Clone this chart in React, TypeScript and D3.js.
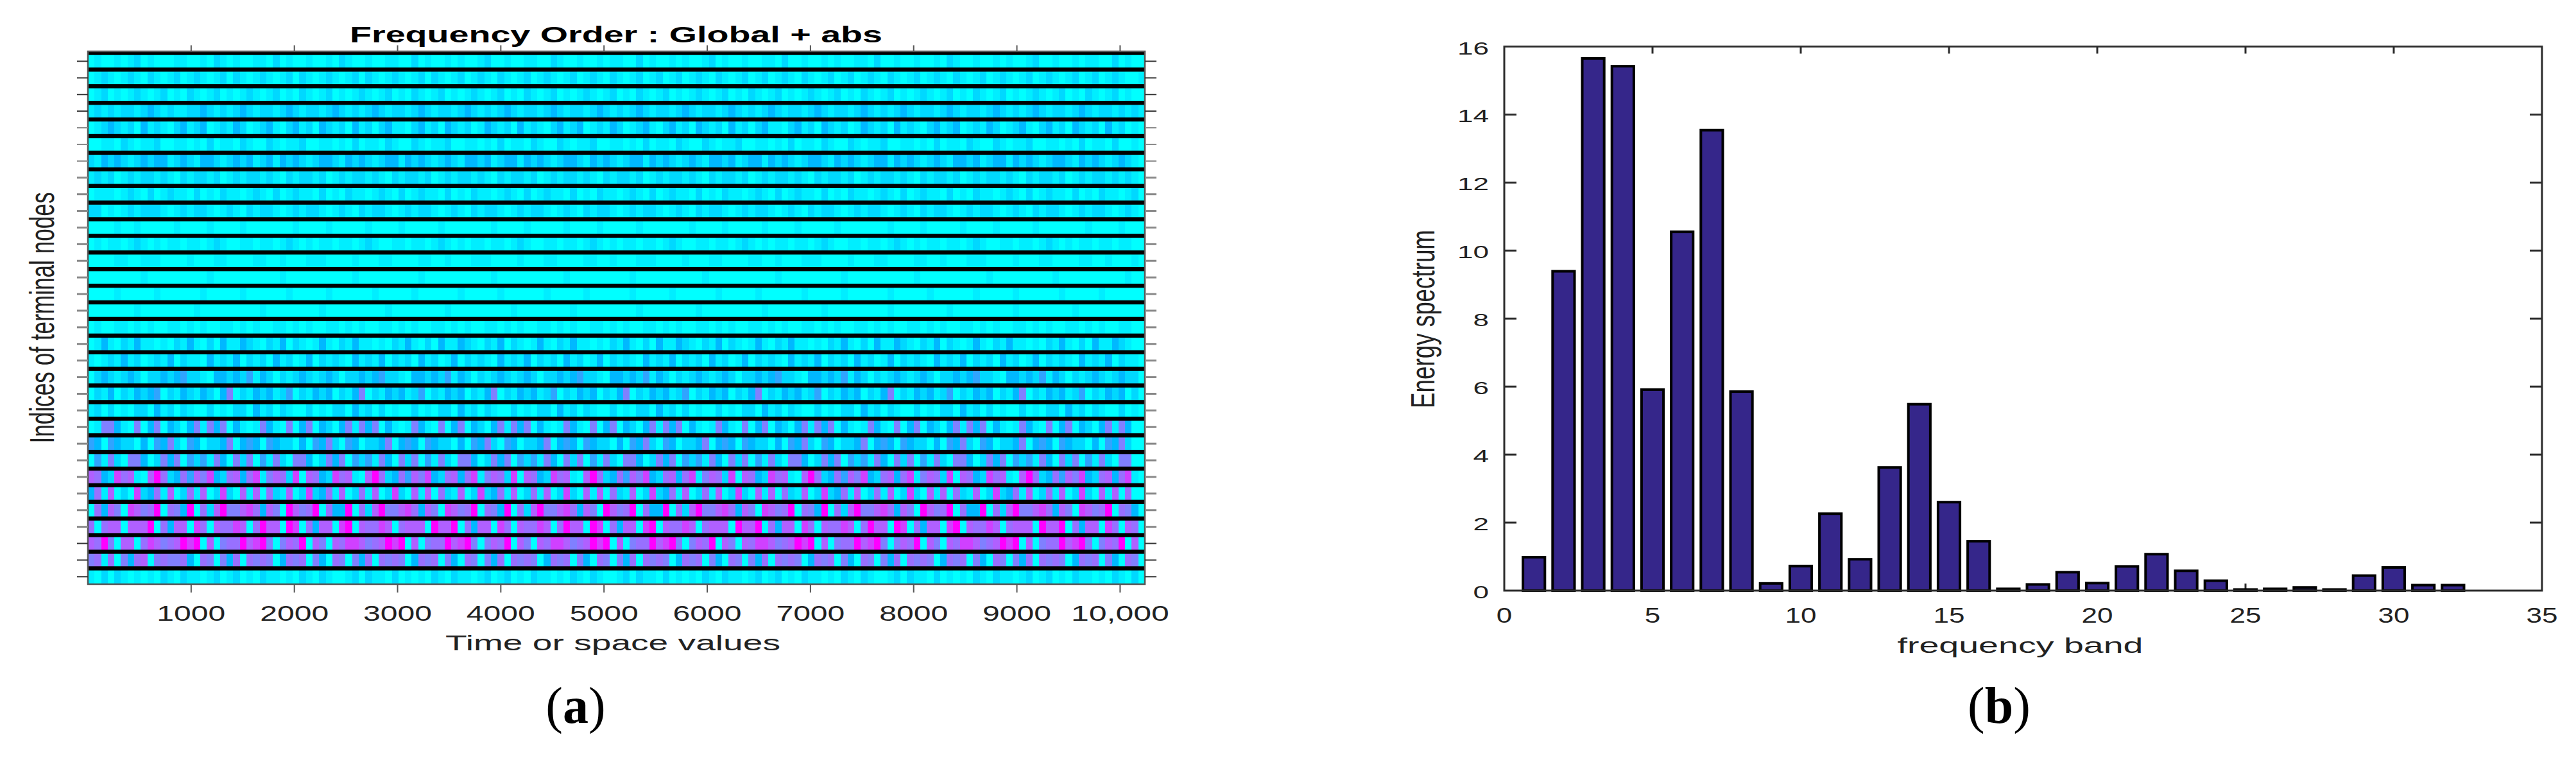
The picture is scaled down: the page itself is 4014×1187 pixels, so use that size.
import React from "react";
import * as d3 from "d3";

// ---------- panel (a): hand-estimated colour levels (0 cyan .. 9 magenta), one string per terminal node, top to bottom
const terminalNodeRows: string[] = [
  "0100101201000110010210100110201001001021001001100201001010012001001100210010010110020100101001201001001102001001010011020010010010210010010100120010010110020100",
  "0121012102101201210120210121012021012101202101210120210120121021012012101201210210120120120121021012012012102101201201210210120121021012012101201210120120121001",
  "0120101210120102101201012101201021012010121012010210120101210120102101201012101201021012010121012010210120101210120102101201012101201021012010121012010210120100",
  "1212122123212112232121232122123212212321212321221232122123212123212212321221232121232122123212212321212321221232122123212123212212321221232121232122123212212121",
  "0123212031210231230121320123102312032120312023110231203212013212031210231230121320123102312032120312023110231203212013212031210231230121320123102312032120312010",
  "0011021011200110102011021002101120011010201102100210112001101020110210021011200110102011021002101120011010201102100210112001101020110210021011200110102011020010",
  "2132321232331232133212323123132321233213232123313232123213323123313232123321323212331323212321332312331323212332132321233132321232133231233132321233213232123210",
  "1212012122121021221201212212102122120121221210212212012122121021221201212212102122120121221210212212012122121021221201212212102122120121221210212212012122121210",
  "0111012102012110201021101210201211020102110121020121102010211012102012110201021101210201211020102110121020121102010211012102012110201021101210201211020102110120",
  "2201012122210121221012102122101212210121021221012122101210212210121221012102122101212210121021221012122101210212210121221012102122101212210121021221012122101210",
  "0000100100000100001000010000000100001000001000010000010000000100001000001000010000010000000100001000001000010000010000000100001000001000010000010000000100001000",
  "0101101210101101101210011011012101011011012100110110121010110110121001101101210101101101210011011012101011011012100110110121010110110121001101101210101101101100",
  "0000110011100001000110000110010001110000100011000011001000111000010001100001100100011100001000110000110010001110000100011000011001000111000010001100001100100010",
  "0000000010000000001000000000010000000000100000000010000000000100000000001000000000100000000001000000000010000000001000000000010000000000100000000010000000000100",
  "0000100000100000010000010000001000001000000100000100000010000010000001000001000000100000100000010000010000001000001000000100000100000010000010000001000001000000",
  "0000000100000000100000000010000000010000000001000000001000000000100000000100000000010000000010000000001000000001000000000100000000100000000010000000010000000000",
  "0100110101001101010011010100110101001101010011010100110101001101010011010100110101001101010011010100110101001101010011010100110101001101010011010100110101001100",
  "0131021311010213102031132102130210131021311010213102031132102130210131021311010213102031132102130210131021311010213102031132102130210131021311010213102031132100",
  "1012131201213021103121302120312013021210312130212031201302121031213021203120130212103121302120312013021210312130212031201302121031213021203120130212103121302110",
  "0232123202232342210332324132021232123202232342210332324132021232123202232342210332324132021232123202232342210332324132021232123202232342210332324132021232123220",
  "0213021323402132132035021323124021323021350213231240213230213502132312402132302135021323124021323021350213231240213230213502132312402132302135021323124021323020",
  "1202010220312021002010220312021002010220312020100201022031202100201022031202100201022031202010020102203120210020102203120210020102203120201002010220312021002010",
  "0155310503503203515350310153105035032035153503101531050350320351535031015310503503203515350310153105035032035153503101531050350320351535031015310503503203515300",
  "4304322030435204302235034304322030435204302235034304322030435204302235034304322030435204302235034304322030435204302235034304322030435204302235034304322030435200",
  "0415205530253504241530525041520553025350424153052504152055302535042415305250415205530253504241530525041520553025350424153052504152055302535042415305250415205500",
  "7632867107962364758326736815762807632867107962364758326736815762807632867107962364758326736815762807632867107962364758326736815762807632867107962364758326736810",
  "3617020823617026170282071706217028236170261702820717062170282361702617028207170621702823617026170282071706217028236170261702820717062170282361702617028207170600",
  "0637508756906539062795578637509756906339062795578637508756906539062795578637509756906339062795578637508756906539062795578637509756906339062795578637508756906530",
  "6067707779063770860766870697709806377089076687067770977906377086076687069770980637708907668706777097790637708607668706977098063770890766870677709779063770860760",
  "7695077068756798907056697895057690750768875679890705669789505769075076887567989070566978950576907507688756798907056697895057690750768875679890705669789505769070",
  "5616053670565563065053606565036560530650536065650365605306505360656503656053065053606565036560530650536065650365605306505360656503656053065053606565036560530650",
  "1020210101021021101201201021101021021001202110201010210211012012010211010210210012021102010102102110120120102110102102100120211020101021021101201201021101021020",
];
const timeTicks: number[] = [1000, 2000, 3000, 4000, 5000, 6000, 7000, 8000, 9000, 10000];
const timeTickLabels: string[] = ["1000", "2000", "3000", "4000", "5000", "6000", "7000", "8000", "9000", "10,000"];
const levelStops: number[] = [0, 1, 2, 3, 4, 5, 7, 8, 9];
const levelColours: string[] = ["#00ffff", "#00eeff", "#00d8ff", "#00b8ff", "#30a4ff", "#8080ff", "#b060ff", "#d040ff", "#ff00ff"];

// ---------- panel (b)
const bands: number[] = d3.range(1, 33);
const energy: number[] = [
  1.0, 9.41, 15.67, 15.44, 5.93, 10.57, 13.56, 5.87, 0.23, 0.74, 2.28, 0.94, 3.64, 5.5, 2.62, 1.47,
  0.07, 0.2, 0.56, 0.24, 0.73, 1.09, 0.6, 0.31, 0.05, 0.07, 0.11, 0.05, 0.46, 0.7, 0.18, 0.18,
];
const freqTicks: number[] = [0, 5, 10, 15, 20, 25, 30, 35];
const energyTicks: number[] = [0, 2, 4, 6, 8, 10, 12, 14, 16];

const W = 4014;
const H = 1187;
const INK = "#222";
const SANS = "'Liberation Sans', Arial, sans-serif";
const SERIF = "'Liberation Serif', serif";

function T(p: {
  x: number; y: number; size: number; len: number; children: React.ReactNode;
  anchor?: "start" | "middle" | "end"; weight?: string; rotate?: boolean; fill?: string;
}) {
  return (
    <text
      transform={`translate(${p.x},${p.y})${p.rotate ? " rotate(-90)" : ""}`}
      fontFamily={SANS}
      fontSize={p.size}
      fontWeight={p.weight ?? "normal"}
      fill={p.fill ?? INK}
      textAnchor={p.anchor ?? "middle"}
      textLength={p.len}
      lengthAdjust="spacingAndGlyphs"
    >
      {p.children}
    </text>
  );
}

function PanelA() {
  const x = d3.scaleLinear().domain([0, 10240]).range([137, 1784]);
  const y = d3.scaleLinear().domain([0, 32]).range([82.5, 911.3]);
  const top = 80;
  const bottom = 910;
  const colour = d3.scaleLinear<string>().domain(levelStops).range(levelColours).interpolate(d3.interpolateRgb);
  return (
    <g>
      <g shapeRendering="crispEdges">
        {terminalNodeRows.map((row, k) => {
          const cell = d3.scaleLinear().domain([0, row.length]).range(x.range());
          return Array.from(row).map((c, i) => (
            <rect
              key={`${k}-${i}`}
              x={cell(i)}
              y={y(k)}
              width={cell(i + 1) - cell(i) + 0.6}
              height={Math.min(y(k + 1), bottom) - y(k)}
              fill={colour(+c)}
            />
          ));
        })}
      </g>
      {d3.range(0, 32).map((k) => (
        <rect key={k} x={137} y={Math.max(top, y(k) - 3.2)} width={1647} height={k === 0 ? 5.7 : 6.4} fill="#000" />
      ))}
      <rect x={137} y={top} width={1647} height={bottom - top} fill="none" stroke="#555" strokeWidth={2.5} />
      {d3.range(0, 32).map((k) => {
        const ty = y(k + 0.5);
        const grey = k >= 4 && k <= 28 ? "#888" : "#333";
        const sw = k >= 7 && k <= 28 ? 3 : 2;
        return (
          <g key={k} stroke={grey} strokeWidth={sw}>
            <line x1={120} x2={137} y1={ty} y2={ty} />
            <line x1={1784} x2={1802} y1={ty} y2={ty} />
          </g>
        );
      })}
      {timeTicks.map((v, i) => (
        <g key={v}>
          <line x1={x(v)} x2={x(v)} y1={70.5} y2={top} stroke="#555" strokeWidth={2} />
          <line x1={x(v)} x2={x(v)} y1={bottom} y2={923} stroke="#555" strokeWidth={2} />
          <T x={x(v)} y={967} size={33} len={i === 9 ? 153 : 107}>{timeTickLabels[i]}</T>
        </g>
      ))}
      <T x={960} y={66} size={35} len={830} weight="bold" fill="#000">Frequency Order : Global + abs</T>
      <T x={955} y={1013} size={33} len={522}>Time or space values</T>
      <T x={84} y={495} size={54} len={391} rotate>Indices of terminal nodes</T>
    </g>
  );
}

function PanelB() {
  const x = d3.scaleLinear().domain([0, 35]).range([2344, 3961]);
  const y = d3.scaleLinear().domain([0, 16]).range([920, 72.5]);
  const barW = x(0.74) - x(0);
  const axis = "#2b2b2b";
  return (
    <g>
      <g stroke={axis} strokeWidth={3}>
        {freqTicks.slice(1, -1).map((v) => (
          <g key={v}>
            <line x1={x(v)} x2={x(v)} y1={y(0)} y2={y(0) - 11} />
            <line x1={x(v)} x2={x(v)} y1={y(16)} y2={y(16) + 11} />
          </g>
        ))}
        {energyTicks.slice(1, -1).map((v) => (
          <g key={v}>
            <line x1={x(0)} x2={x(0) + 19} y1={y(v)} y2={y(v)} />
            <line x1={x(35)} x2={x(35) - 19} y1={y(v)} y2={y(v)} />
          </g>
        ))}
      </g>
      {bands.map((b, i) => (
        <rect
          key={b}
          x={x(b) - barW / 2}
          y={y(energy[i]) + 1}
          width={barW}
          height={y(0) - y(energy[i]) - 1}
          fill="#35268a"
          stroke="#000"
          strokeWidth={4}
        />
      ))}
      <rect x={x(0)} y={y(16)} width={x(35) - x(0)} height={y(0) - y(16)} fill="none" stroke={axis} strokeWidth={3} />
      {freqTicks.map((v) => (
        <T key={v} x={x(v)} y={970} size={33} len={String(v).length * 24.5}>{v}</T>
      ))}
      {energyTicks.map((v) => (
        <T key={v} x={2320} y={y(v) + 12} size={27} anchor="end" len={String(v).length * 24.5}>{v}</T>
      ))}
      <T x={3148} y={1017} size={33} len={383}>frequency band</T>
      <T x={2235} y={497} size={52} len={278} rotate>Energy spectrum</T>
    </g>
  );
}

function Caption(p: { cx: number; letter: string }) {
  return (
    <text x={p.cx} y={1126} fontFamily={SERIF} fontSize={80} textAnchor="middle" fill="#000">
      (<tspan fontWeight="bold">{p.letter}</tspan>)
    </text>
  );
}

export default function App() {
  return (
    <svg
      width={W}
      height={H}
      viewBox={`0 0 ${W} ${H}`}
      style={{ position: "absolute", left: 0, top: 0, display: "block", background: "#fff" }}
    >
      <PanelA />
      <PanelB />
      <Caption cx={897} letter="a" />
      <Caption cx={3115} letter="b" />
    </svg>
  );
}
